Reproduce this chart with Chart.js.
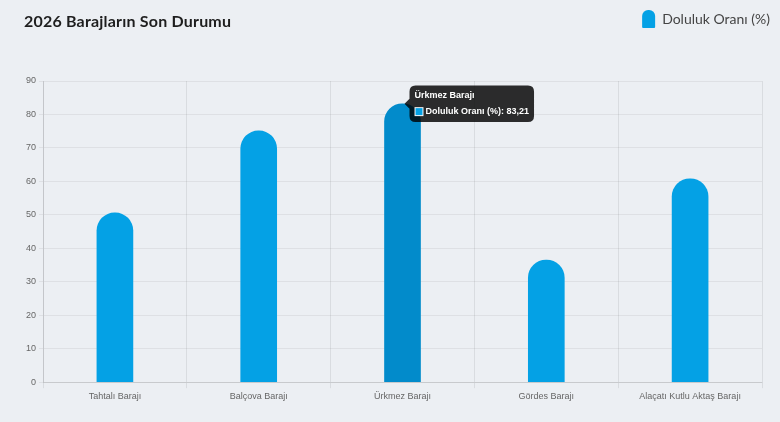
<!DOCTYPE html>
<html>
<head>
<meta charset="utf-8">
<script src="https://cdn.jsdelivr.net/npm/chart.js@4"></script>
<style>
  html, body { margin: 0; padding: 0; background: #eceff3; }
  #wrap { position: relative; width: 780px; height: 422px; }
  #title {
    position: absolute; left: 24px; top: 11px;
    font-family: Lato, "Noto Sans", sans-serif; font-weight: bold;
    font-size: 16px; color: #1e1e1e; letter-spacing: 0.2px;
  }
</style>
</head>
<body>
<div id="wrap">
  <div id="title">2026 Barajların Son Durumu</div>
  <canvas id="myChart" width="780" height="422"></canvas>
</div>
<script>
// chart data
var barajlar = ['Tahtalı Barajı', 'Balçova Barajı', 'Ürkmez Barajı', 'Gördes Barajı', 'Alaçatı Kutlu Aktaş Barajı'];
var doluluk = [50.6, 75.1, 83.21, 36.5, 60.8];
var seriAdi = 'Doluluk Oranı (%)';

function drawChart()
{
    var ctx = document.getElementById('myChart').getContext('2d');
    var chart = new Chart(ctx, {
        type: 'bar',
        data: {
            labels: barajlar,
            datasets: [{
                label: seriAdi,
                data: doluluk,
                backgroundColor: '#04a1e5',
                hoverBackgroundColor: '#028bcb',
                borderRadius: 18,
                borderSkipped: 'bottom',
                barThickness: 36
            }]
        },
        options: {
            responsive: false,
            animation: false,
            locale: 'tr-TR',
            layout: { padding: { left: 23, right: 0, top: 0, bottom: 17 } },
            scales: {
                x: {
                    grid: { color: 'rgba(0,0,0,0.08)', tickLength: 6 },
                    ticks: { color: '#666', font: { family: 'Arial, "Liberation Sans"', size: 9 } }
                },
                y: {
                    min: 0, max: 90,
                    grid: { color: 'rgba(0,0,0,0.06)', tickLength: 4 },
                    ticks: { stepSize: 10, color: '#666', font: { family: 'Arial, "Liberation Sans"', size: 9 } }
                },
                // empty right axis, only keeps room on the right side
                bos: {
                    type: 'linear',
                    position: 'right',
                    grid: { display: false },
                    border: { display: false },
                    ticks: { display: false },
                    afterFit: function(scale) { scale.width = 18; }
                }
            },
            plugins: {
                legend: {
                    position: 'top',
                    align: 'end',
                    labels: {
                        boxWidth: 13,
                        boxHeight: 18,
                        useBorderRadius: true,
                        borderRadius: { topLeft: 6, topRight: 6, bottomLeft: 1, bottomRight: 1 },
                        padding: 10,
                        color: '#444',
                        font: { family: 'Lato, "Noto Sans", sans-serif', size: 14 }
                    }
                },
                tooltip: {
                    xAlign: 'left',
                    yAlign: 'center',
                    backgroundColor: 'rgba(0,0,0,0.82)',
                    titleFont: { family: 'Arial, "Liberation Sans"', size: 9, weight: 'bold' },
                    bodyFont: { family: 'Arial, "Liberation Sans"', size: 9, weight: 'bold' },
                    titleMarginBottom: 5,
                    padding: 5,
                    boxWidth: 9,
                    boxHeight: 9
                }
            }
        },
        plugins: [{
            id: 'legendGap',
            beforeInit: function(chart) {
                var fit = chart.legend.fit;
                chart.legend.fit = function() {
                    fit.bind(chart.legend)();
                    this.height += 43;
                };
            }
        }]
    });

    var active = [{ datasetIndex: 0, index: 2 }];
    chart.setActiveElements(active);
    chart.tooltip.setActiveElements(active, { x: 0, y: 0 });
    chart.update('none');
}
drawChart();
</script>
</body>
</html>
